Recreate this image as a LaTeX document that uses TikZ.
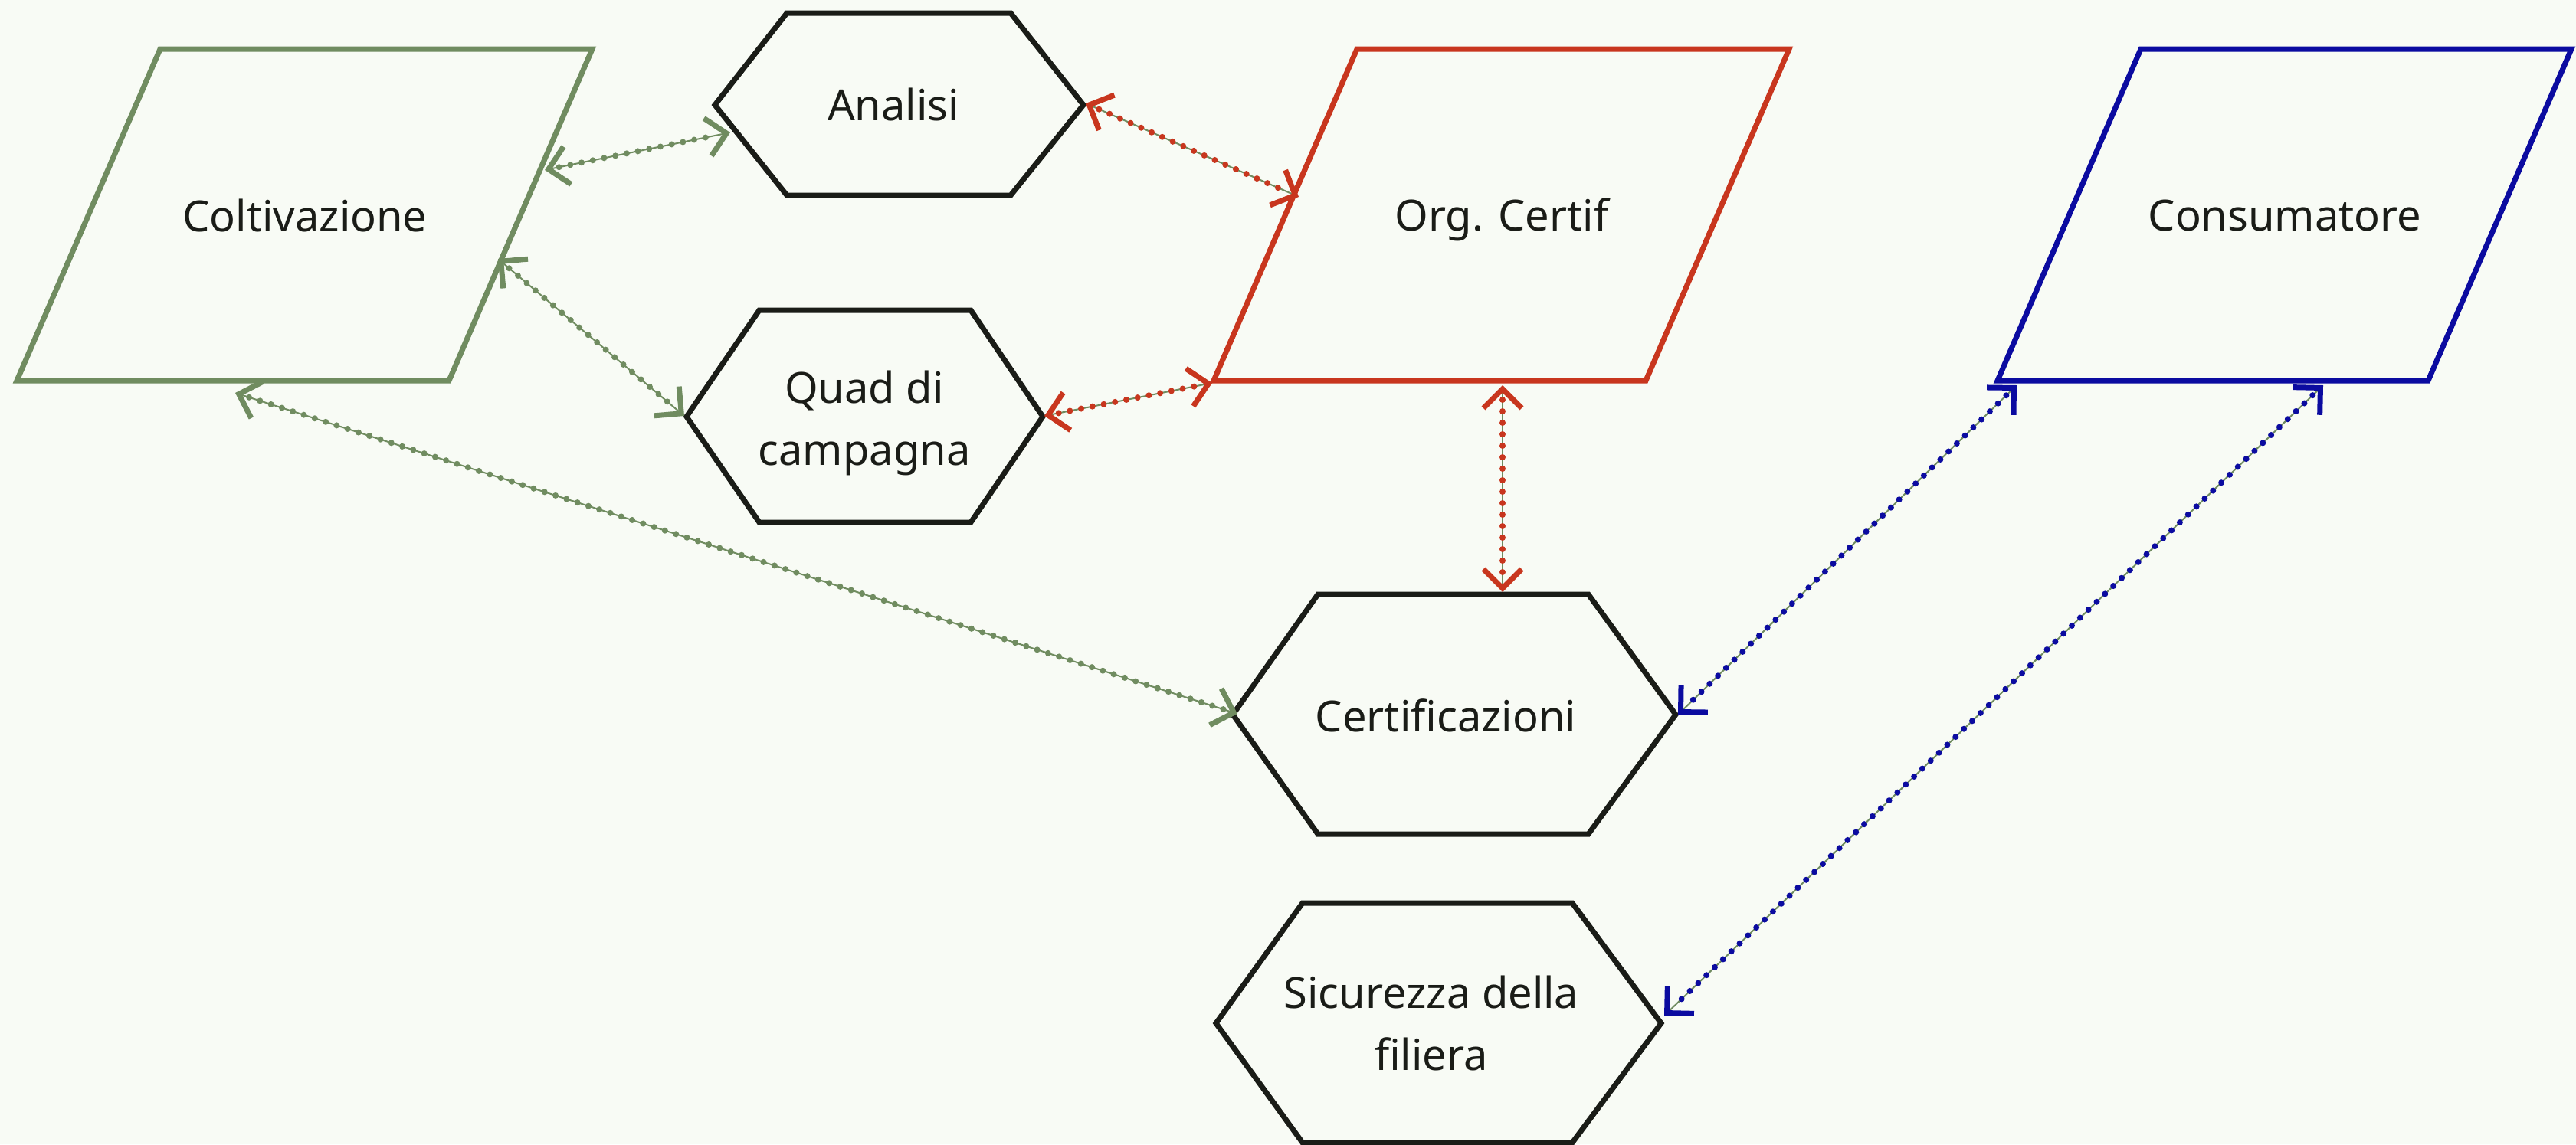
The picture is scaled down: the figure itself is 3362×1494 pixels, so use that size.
\documentclass[tikz,border=0pt]{standalone}
\usepackage{fontspec}
\setmainfont{Noto Sans}
\usetikzlibrary{arrows.meta}
\definecolor{bg}{HTML}{F8FBF5}
\definecolor{gcol}{HTML}{708C60}
\definecolor{rcol}{HTML}{C8361E}
\definecolor{bcol}{HTML}{0B0BA0}
\definecolor{kcol}{HTML}{1A1C17}
\tikzset{
  shapeline/.style={line width=7pt, line join=miter},
  lbl/.style={font=\fontsize{56}{81}\selectfont, text=kcol, align=center, inner sep=0pt},
  conn/.style={draw=gcol, line width=2pt,
    arrows={Straight Barb[length=25pt,width=50pt,line width=7pt,color=#1]-Straight Barb[length=25pt,width=50pt,line width=7pt,color=#1]},
    postaction={draw=#1, line width=8pt, line cap=round, dash pattern=on 0pt off 15pt, shorten <=19pt, shorten >=19pt, arrows=-}}
}
\begin{document}
\begin{tikzpicture}[x=1pt,y=-1pt]
\fill[bg] (0,0) rectangle (3362,1494);
\useasboundingbox (0,0) rectangle (3362,1494);
% shapes
\draw[shapeline, draw=gcol] (22,497) -- (209,64) -- (773,64) -- (586,497) -- cycle;
\draw[shapeline, draw=rcol] (1584,497) -- (1771,64) -- (2335,64) -- (2148,497) -- cycle;
\draw[shapeline, draw=bcol] (2607,497) -- (2794,64) -- (3356,64) -- (3169,497) -- cycle;
\draw[shapeline, draw=kcol] (933,137) -- (1027,17) -- (1319,17) -- (1414,137) -- (1319,255) -- (1027,255) -- cycle;
\draw[shapeline, draw=kcol] (896,544) -- (991,405) -- (1267,405) -- (1361,544) -- (1267,682) -- (991,682) -- cycle;
\draw[shapeline, draw=kcol] (1609,933) -- (1720,776) -- (2073,776) -- (2187,933) -- (2073,1089) -- (1720,1089) -- cycle;
\draw[shapeline, draw=kcol] (1587,1336) -- (1700,1179) -- (2052,1179) -- (2168,1336) -- (2052,1492) -- (1700,1492) -- cycle;
% labels
\node[lbl, anchor=base] (tcolt) at (398,302) {Coltivazione};
\node[lbl, anchor=base] (tana) at (1166,157) {Analisi};
\node[lbl, anchor=base] (torg) at (1960,301) {Org. Certif};
\node[lbl, anchor=base] (tcons) at (2982,301) {Consumatore};
\node[lbl] (tquad) at (1128,552) {Quad di\\campagna};
\node[lbl, anchor=base] (tcert) at (1887,955) {Certificazioni};
\node[lbl] (tsic) at (1868,1336) {Sicurezza della\\filiera};
% connector ends
\coordinate (colt-a) at (711,222);
\coordinate (ana-c) at (953,173);
\coordinate (colt-q) at (650,338);
\coordinate (quad-c) at (893,543);
\coordinate (colt-ce) at (307,513);
\coordinate (cert-c) at (1615,932);
\coordinate (ana-o) at (1417,135);
\coordinate (org-a) at (1695,257);
\coordinate (quad-o) at (1363,543);
\coordinate (org-q) at (1582,500);
\coordinate (org-ce) at (1961,503);
\coordinate (cert-o) at (1961,773);
\coordinate (cons-ce) at (2632,503);
\coordinate (cert-cs) at (2190,933);
\coordinate (cons-s) at (3032,503);
\coordinate (sic-cs) at (2172,1326);
% connectors
\draw[conn=gcol] (colt-a) -- (ana-c);
\draw[conn=gcol] (colt-q) -- (quad-c);
\draw[conn=gcol] (colt-ce) -- (cert-c);
\draw[conn=rcol] (ana-o) -- (org-a);
\draw[conn=rcol] (quad-o) -- (org-q);
\draw[conn=rcol] (org-ce) -- (cert-o);
\draw[conn=bcol] (cons-ce) -- (cert-cs);
\draw[conn=bcol] (cons-s) -- (sic-cs);
\end{tikzpicture}
\end{document}
